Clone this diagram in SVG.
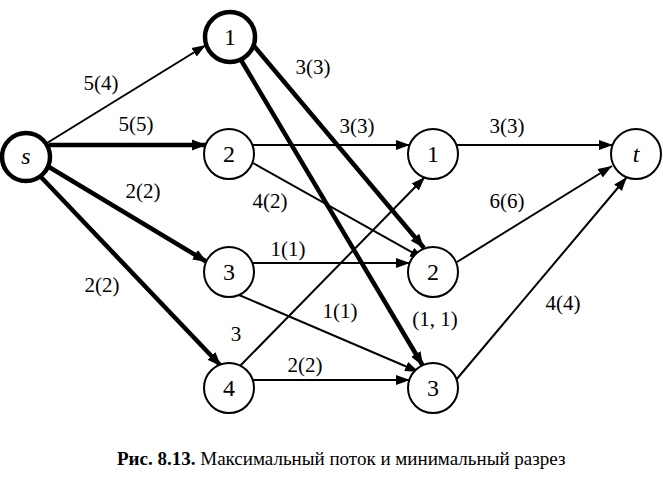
<svg xmlns="http://www.w3.org/2000/svg" width="663" height="481" viewBox="0 0 663 481">
<style>
.n{fill:#fff;stroke:#000;stroke-width:2}
.nb{fill:#fff;stroke:#000;stroke-width:4.5}
.nl{font-family:"Liberation Serif","Times New Roman",serif;font-size:24px;text-anchor:middle;fill:#000}
.it{font-style:italic}
.e{stroke:#000;stroke-width:2;fill:none;marker-end:url(#a)}
.eb{stroke:#000;stroke-width:4.5;fill:none;marker-end:url(#ab)}
.el{font-family:"Liberation Serif","Times New Roman",serif;font-size:21px;text-anchor:middle;fill:#000}
.cap{font-family:"Liberation Serif","Times New Roman",serif;font-size:19px;fill:#000}
</style>
<defs>
<marker id="a" markerUnits="userSpaceOnUse" markerWidth="16" markerHeight="12" refX="14" refY="6" orient="auto">
<path d="M0,1 L14,6 L0,11 Z" fill="#000"/>
</marker>
<marker id="ab" markerUnits="userSpaceOnUse" markerWidth="16" markerHeight="14" refX="14" refY="7" orient="auto">
<path d="M0,1.5 L14,7 L0,12.5 Z" fill="#000"/>
</marker>
</defs>
<g id="connectors">
<line class="e" x1="47" y1="143" x2="206" y2="45"/>
<line class="eb" x1="49" y1="145" x2="206" y2="145"/>
<line class="eb" x1="49" y1="167" x2="207" y2="262"/>
<line class="eb" x1="40" y1="176" x2="221" y2="366"/>
<line class="eb" x1="254" y1="46" x2="424" y2="248"/>
<line class="eb" x1="241" y1="60" x2="423" y2="366"/>
<line class="e" x1="252" y1="145" x2="410" y2="145"/>
<line class="e" x1="253" y1="163" x2="424" y2="259"/>
<line class="e" x1="252" y1="263" x2="410" y2="263"/>
<line class="e" x1="239" y1="295" x2="419" y2="372"/>
<line class="e" x1="240" y1="366" x2="425" y2="177"/>
<line class="e" x1="252" y1="380" x2="410" y2="380"/>
<line class="e" x1="456" y1="145" x2="613" y2="145"/>
<line class="e" x1="457" y1="262" x2="612" y2="166"/>
<line class="e" x1="456" y1="380" x2="627" y2="177"/>
</g>
<g id="edge-labels">
<text class="el" x="101" y="90">5(4)</text>
<text class="el" x="136" y="131">5(5)</text>
<text class="el" x="143" y="198">2(2)</text>
<text class="el" x="102" y="292">2(2)</text>
<text class="el" x="313" y="74">3(3)</text>
<text class="el" x="357" y="133">3(3)</text>
<text class="el" x="270" y="208">4(2)</text>
<text class="el" x="288" y="256">1(1)</text>
<text class="el" x="340" y="318">1(1)</text>
<text class="el" x="236" y="341">3</text>
<text class="el" x="305" y="372">2(2)</text>
<text class="el" x="507" y="133">3(3)</text>
<text class="el" x="507" y="208">6(6)</text>
<text class="el" x="435" y="326">(1, 1)</text>
<text class="el" x="563" y="310">4(4)</text>
</g>
<g id="node-s"><circle class="nb" cx="26" cy="157" r="24"/><text class="nl it" x="26" y="164">s</text></g>
<g id="node-a1"><circle class="nb" cx="230" cy="37" r="25"/><text class="nl" x="230" y="45">1</text></g>
<g id="node-a2"><circle class="n" cx="229" cy="154" r="25"/><text class="nl" x="229" y="162">2</text></g>
<g id="node-a3"><circle class="n" cx="229" cy="272" r="25"/><text class="nl" x="229" y="280">3</text></g>
<g id="node-a4"><circle class="n" cx="229" cy="388" r="25"/><text class="nl" x="229" y="396">4</text></g>
<g id="node-b1"><circle class="n" cx="433" cy="154" r="25"/><text class="nl" x="433" y="162">1</text></g>
<g id="node-b2"><circle class="n" cx="433" cy="272" r="25"/><text class="nl" x="433" y="280">2</text></g>
<g id="node-b3"><circle class="n" cx="433" cy="388" r="25"/><text class="nl" x="433" y="396">3</text></g>
<g id="node-t"><circle class="n" cx="636" cy="154" r="25"/><text class="nl it" x="636" y="162">t</text></g>
<text class="cap" x="117" y="465"><tspan font-weight="bold">Рис. 8.13.</tspan> Максимальный поток и минимальный разрез</text>
</svg>
